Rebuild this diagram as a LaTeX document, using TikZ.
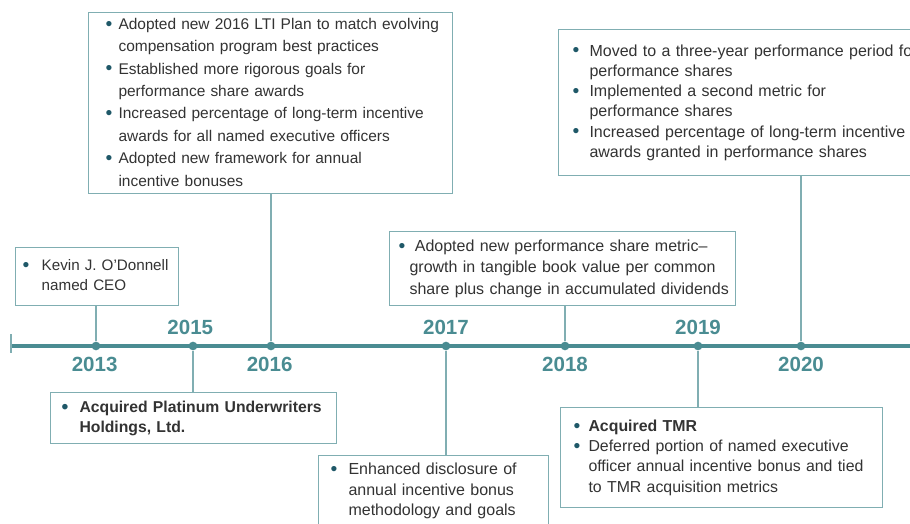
\documentclass[tikz,border=0pt]{standalone}
\usepackage{fontspec}
\setmainfont{Liberation Sans}
\usepackage{tikz}
\usetikzlibrary{positioning}
\definecolor{accent}{RGB}{74,140,146}
\definecolor{lightaccent}{RGB}{128,174,178}
\definecolor{bulletc}{RGB}{31,88,104}
\definecolor{textc}{RGB}{51,51,51}
\newlength{\bulw}
\newcommand{\bul}{\makebox[\bulw][l]{\raisebox{-0.6pt}{\textcolor{bulletc}{\fontsize{14.5}{14.5}\selectfont\textbullet}}}}
\newcommand{\ind}{\hspace*{\bulw}}
\newcommand{\evlines}[1]{\begin{tabular}{@{}l@{}}#1\end{tabular}}

\begin{document}
\begin{tikzpicture}[
  x=0.75pt, y=-0.75pt,
  evbox/.style={draw=lightaccent, line width=1.1pt, fill=white, inner sep=0pt, align=left, anchor=north west,
    text=textc, font=\fontsize{12}{15.4}\selectfont, execute at begin node={\setlength{\bulw}{#1}}},
  evbox/.default=12pt,
  dot/.style={circle, fill=accent, inner sep=0pt, minimum size=6.5pt},
  year/.style={font=\fontsize{15.4}{15.4}\selectfont\bfseries, text=accent, inner sep=0pt},
  link/.style={draw=lightaccent, line width=1.1pt},
  tline/.style={draw=accent, line width=3pt}
]
\useasboundingbox (0,0) rectangle (910,524);
\clip (0,0) rectangle (910,524);
\coordinate (tstart) at (11,346);
\coordinate (tend) at (915,346);
\draw[tline] (tstart) -- (tend);
\draw[link] (tstart) ++(0,-12) -- ++(0,19);
\node[dot] (d2013) at (96,346) {};
\node[dot] (d2015) at (193,346) {};
\node[dot] (d2016) at (271,346) {};
\node[dot] (d2017) at (446,346) {};
\node[dot] (d2018) at (565,346) {};
\node[dot] (d2019) at (698,346) {};
\node[dot] (d2020) at (801,346) {};
\node[year, below=5pt of d2013, xshift=-1pt] (y2013) {2013};
\node[year, above=5pt of d2015, xshift=-2pt] (y2015) {2015};
\node[year, below=5pt of d2016, xshift=-1pt] (y2016) {2016};
\node[year, above=5pt of d2017] (y2017) {2017};
\node[year, below=5pt of d2018] (y2018) {2018};
\node[year, above=5pt of d2019] (y2019) {2019};
\node[year, below=5pt of d2020] (y2020) {2020};
\node[evbox=14.25pt, minimum width=122.25pt, minimum height=43.5pt, text width=111.75pt,
  font=\fontsize{11.4}{15}\selectfont] (b2013) at (15,247)
  {\evlines{\bul Kevin J. O’Donnell\\\ind named CEO}};
\node[evbox=9.6pt, minimum width=273pt, minimum height=135.75pt, text width=247.5pt,
  font=\fontsize{11.6}{16.8}\selectfont] (b2016) at (88,12)
  {\evlines{\bul Adopted new 2016 LTI Plan to match evolving\\\ind compensation program best practices\\
   \bul Established more rigorous goals for\\\ind performance share awards\\
   \bul Increased percentage of long-term incentive\\\ind awards for all named executive officers\\
   \bul Adopted new framework for annual\\\ind incentive bonuses}};
\node[evbox=8.1pt, minimum width=259.5pt, minimum height=55.5pt, text width=246pt,
  font=\fontsize{12}{15.8}\selectfont] (b2018) at (389,231)
  {\evlines{\bul\ Adopted new performance share metric--\\\ind growth in tangible book value per common\\
   \ind share plus change in accumulated dividends}};
\node[evbox=12.6pt, minimum width=364.5pt, minimum height=109.5pt, text width=343.5pt,
  font=\fontsize{12}{15.2}\selectfont] (b2020) at (558,29)
  {\evlines{\bul Moved to a three-year performance period for\\\ind performance shares\\
   \bul Implemented a second metric for\\\ind performance shares\\
   \bul Increased percentage of long-term incentive\\\ind awards granted in performance shares}};
\node[evbox=13.35pt, minimum width=214.5pt, minimum height=38.25pt, text width=198pt,
  font=\fontsize{11.8}{15}\selectfont\bfseries] (b2015) at (50,392)
  {\evlines{\bul Acquired Platinum Underwriters\\\ind Holdings, Ltd.}};
\node[evbox=13.35pt, minimum width=172.5pt, minimum height=53.25pt, text width=154.5pt] (b2017) at (318,455)
  {\evlines{\bul Enhanced disclosure of\\\ind annual incentive bonus\\\ind methodology and goals}};
\node[evbox=11.1pt, minimum width=241.5pt, minimum height=75pt, text width=222pt,
  font=\fontsize{11.9}{15.2}\selectfont] (b2019) at (560,407)
  {\evlines{\bul\textbf{Acquired TMR}\\
   \bul Deferred portion of named executive\\\ind officer annual incentive bonus and tied\\\ind to TMR acquisition metrics}};
\draw[link] (d2013.north) -- (d2013.north |- b2013.south);
\draw[link] (d2016.north) -- (d2016.north |- b2016.south);
\draw[link] (d2018.north) -- (d2018.north |- b2018.south);
\draw[link] (d2020.north) -- (d2020.north |- b2020.south);
\draw[link] (d2015.south) -- (d2015.south |- b2015.north);
\draw[link] (d2017.south) -- (d2017.south |- b2017.north);
\draw[link] (d2019.south) -- (d2019.south |- b2019.north);
\end{tikzpicture}
\end{document}
